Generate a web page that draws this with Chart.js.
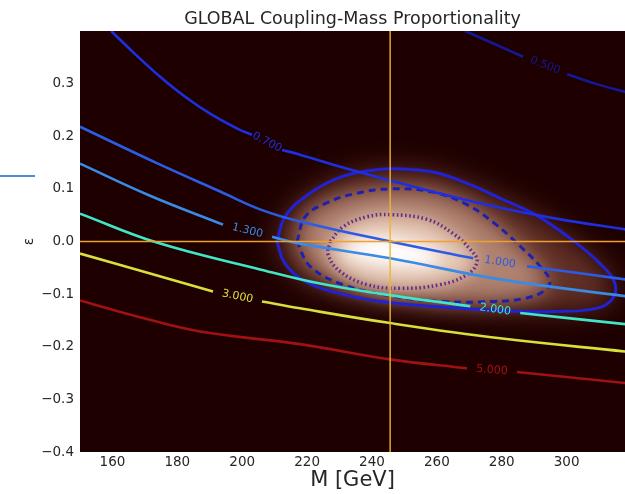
<!DOCTYPE html>
<html><head><meta charset="utf-8">
<script src="https://cdn.jsdelivr.net/npm/chart.js@4"></script>
<style>html,body{margin:0;padding:0;background:#fff}#wrap{width:625px;height:494px;position:relative}</style>
</head><body><div id="wrap"><canvas id="c" width="625" height="494"></canvas></div>
<script>
// ---------- data ----------
const massTicks = [160, 180, 200, 220, 240, 260, 280, 300];
const epsTicks = [-0.4, -0.3, -0.2, -0.1, 0.0, 0.1, 0.2, 0.3];
const massRange = [150, 318];
const epsRange = [-0.4, 0.4];
const bestMass = 245.6;
const bestEps = 0.0;

const levelLabels = ['0.500', '0.700', '1.000', '1.300', '2.000', '3.000', '5.000'];
const level050 = [[268.7,0.400],[276.4,0.379],[286.6,0.351],null,[300.2,0.318],[308.8,0.300],[318.1,0.284]];
const level070 = [[159.6,0.400],[167.0,0.356],[174.7,0.313],[182.4,0.275],[190.1,0.243],[199.3,0.212],[203.0,0.203],null,[212.3,0.174],[217.8,0.165],[230.2,0.142],[245.6,0.116],[261.0,0.091],[279.5,0.064],[298.0,0.042],[318.1,0.023]];
const level100 = [[150.0,0.218],[174.7,0.146],[193.2,0.095],[205.5,0.061],[217.8,0.038],[245.6,0.000],[271.2,-0.032],null,[287.8,-0.047],[318.1,-0.072]];
const level130 = [[150.0,0.148],[171.6,0.087],[194.1,0.032],null,[209.2,0.009],[217.8,-0.004],[245.6,-0.032],[279.5,-0.072],[318.1,-0.104]];
const level200 = [[150.0,0.053],[173.7,-0.002],[205.5,-0.053],[224.0,-0.080],[243.4,-0.100],[270.3,-0.123],null,[285.7,-0.136],[318.1,-0.157]];
const level300 = [[150.0,-0.023],[171.6,-0.061],[191.0,-0.095],null,[206.1,-0.114],[217.8,-0.127],[245.6,-0.155],[279.5,-0.184],[318.1,-0.209]];
const level500 = [[150.0,-0.112],[168.5,-0.144],[187.0,-0.171],[217.8,-0.195],[245.6,-0.224],[269.3,-0.241],null,[284.7,-0.248],[318.1,-0.269]];

// confidence contours of the likelihood blob
const sigma3 = [[210.7,0.000],[213.2,0.047],[219.4,0.085],[228.6,0.118],[239.4,0.135],[248.7,0.138],[259.5,0.131],[270.3,0.108],[279.5,0.082],[290.3,0.051],[301.1,0.006],[310.3,-0.042],[315.0,-0.082],[313.4,-0.114],[307.3,-0.129],[296.5,-0.133],[285.7,-0.133],[273.3,-0.129],[257.9,-0.123],[242.5,-0.114],[230.2,-0.099],[219.4,-0.076],[213.2,-0.042],[210.7,0.000]];
const sigma2 = [[216.9,0.000],[219.4,0.047],[225.5,0.072],[234.8,0.091],[245.6,0.100],[257.9,0.095],[268.7,0.072],[277.9,0.034],[285.7,-0.009],[291.8,-0.047],[294.9,-0.076],[292.8,-0.095],[287.2,-0.108],[277.4,-0.114],[261.9,-0.114],[246.5,-0.104],[231.1,-0.082],[220.9,-0.047],[216.9,0.000]];
const sigma1 = [[227.1,0.000],[231.1,0.028],[238.5,0.047],[245.6,0.051],[257.0,0.042],[265.0,0.015],[270.3,-0.015],[272.4,-0.038],[269.3,-0.063],[261.0,-0.082],[248.7,-0.089],[238.5,-0.082],[230.2,-0.057],[226.5,-0.025],[227.1,0.000]];
const peakCore = [[231.5,-0.009],[237.9,0.008],[245.6,0.008],[255.5,-0.006],[262.5,-0.028],[257.5,-0.048],[247.1,-0.048],[237.0,-0.038],[231.5,-0.022]];

// ---------- styles ----------
const BG = '#1e0000';
const TXT = '#262626';
const FONT = '"DejaVu Sans", sans-serif';
const levelColors = ['#16169a', '#1e2ee0', '#2c5ce6', '#3a8ae6', '#42e6c6', '#d8e03c', '#a01212'];
const heatColors = ['#623026', '#b08270', '#e6c8b6', '#ffffff'];
const heatBlur = [14, 11, 9, 8];

function pts(arr) {
  return arr.map((p, i) => p === null ? {x: arr[i - 1][0], y: null} : {x: p[0], y: p[1]});
}

const levelSets = [level050, level070, level100, level130, level200, level300, level500];
const datasets = [];
datasets.push({data: pts([[bestMass, epsRange[0]], [bestMass, epsRange[1]]]), borderColor: '#eeb531', borderWidth: 1.4, showLine: true, pointRadius: 0});
datasets.push({data: pts([[massRange[0], bestEps], [massRange[1], bestEps]]), borderColor: '#f0a02c', borderWidth: 1.4, showLine: true, pointRadius: 0});
levelSets.forEach((arr, i) => {
  datasets.push({data: pts(arr), borderColor: levelColors[i], borderWidth: 2.6, showLine: true, pointRadius: 0,
    spanGaps: false, tension: 0.4, levelText: levelLabels[i]});
});
datasets.push({data: pts(sigma1), borderColor: '#662a88', borderWidth: 3.5, borderDash: [1.6, 2.6], showLine: true, pointRadius: 0, tension: 0.4});
datasets.push({data: pts(sigma2), borderColor: '#2020b0', borderWidth: 3, borderDash: [7, 5], showLine: true, pointRadius: 0, tension: 0.4});
datasets.push({data: pts(sigma3), borderColor: '#2222d4', borderWidth: 3, showLine: true, pointRadius: 0, tension: 0.4});
[sigma3, sigma2, sigma1, peakCore].forEach((arr, i) => {
  datasets.push({data: pts(arr), showLine: false, pointRadius: 0, borderWidth: 0, glowColor: heatColors[i], glowBlur: heatBlur[i]});
});

const heatPlugin = {
  id: 'heat',
  beforeDatasetsDraw(chart) {
    const {ctx, chartArea: a} = chart;
    ctx.save();
    ctx.fillStyle = BG;
    ctx.fillRect(a.left, a.top, a.right - a.left, a.bottom - a.top);
    ctx.beginPath(); ctx.rect(a.left, a.top, a.right - a.left, a.bottom - a.top); ctx.clip();
    chart.data.datasets.forEach((ds, i) => {
      if (!ds.glowColor) return;
      const meta = chart.getDatasetMeta(i);
      ctx.filter = 'blur(' + ds.glowBlur + 'px)';
      ctx.fillStyle = ds.glowColor;
      ctx.beginPath();
      meta.data.forEach((p, k) => { if (k) ctx.lineTo(p.x, p.y); else ctx.moveTo(p.x, p.y); });
      ctx.closePath();
      ctx.fill();
    });
    ctx.restore();
  }
};

const labelPlugin = {
  id: 'clabels',
  afterDatasetsDraw(chart) {
    const ctx = chart.ctx;
    chart.data.datasets.forEach((ds, i) => {
      if (!ds.levelText) return;
      const meta = chart.getDatasetMeta(i);
      const k = ds.data.findIndex(d => d.y === null);
      if (k < 1) return;
      const p1 = meta.data[k - 1], p2 = meta.data[k + 1];
      const ang = Math.atan2(p2.y - p1.y, p2.x - p1.x);
      ctx.save();
      ctx.translate((p1.x + p2.x) / 2, (p1.y + p2.y) / 2);
      ctx.rotate(ang);
      ctx.font = '11px ' + FONT;
      ctx.fillStyle = ds.borderColor;
      ctx.textAlign = 'center';
      ctx.textBaseline = 'middle';
      ctx.fillText(ds.levelText, 0, 0);
      ctx.restore();
    });
  },
  afterDraw(chart) {
    const ctx = chart.ctx;
    ctx.save();
    ctx.strokeStyle = '#4a90d9';
    ctx.lineWidth = 2;
    ctx.beginPath(); ctx.moveTo(0, 176); ctx.lineTo(35, 176); ctx.stroke();
    ctx.restore();
  }
};

const fmt = v => (v < 0 ? '\u2212' : '') + Math.abs(v).toFixed(1);

new Chart(document.getElementById('c'), {
  type: 'scatter',
  data: {datasets},
  plugins: [heatPlugin, labelPlugin],
  options: {
    responsive: false, animation: false, devicePixelRatio: 1,
    layout: {padding: 0},
    plugins: {
      legend: {display: false}, tooltip: {enabled: false},
      title: {display: true, text: 'GLOBAL Coupling-Mass Proportionality', fullSize: false,
        color: TXT, font: {family: FONT, size: 17.5, weight: 'normal'}, padding: {top: 9, bottom: 1}}
    },
    scales: {
      x: {
        type: 'linear', min: massRange[0], max: massRange[1],
        afterBuildTicks: s => { s.ticks = massTicks.map(v => ({value: v})); },
        afterFit: s => { s.height = 42; },
        grid: {display: false, drawTicks: false}, border: {display: false},
        ticks: {color: TXT, font: {family: FONT, size: 13.5}, padding: 2, maxRotation: 0, callback: v => String(v)},
        title: {display: true, text: 'M [GeV]', color: TXT, font: {family: FONT, size: 21}, padding: {top: 0, bottom: 1}}
      },
      y: {
        type: 'linear', min: epsRange[0], max: epsRange[1],
        afterBuildTicks: s => { s.ticks = epsTicks.map(v => ({value: v})); },
        afterFit: s => { s.width = 80; },
        grid: {display: false, drawTicks: false}, border: {display: false},
        ticks: {color: TXT, font: {family: FONT, size: 13.5}, padding: 6, callback: v => fmt(v)},
        title: {display: true, text: '\u03b5', color: TXT, font: {family: FONT, size: 14}, padding: {top: 21, bottom: 0}}
      }
    }
  }
});
</script></body></html>
